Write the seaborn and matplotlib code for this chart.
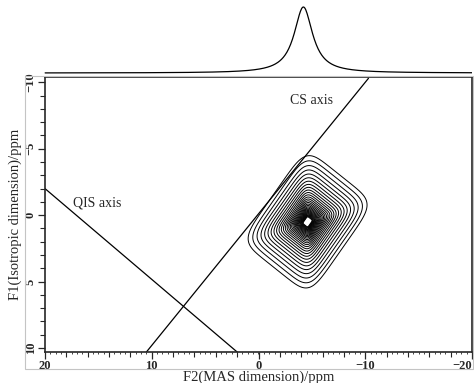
import numpy as np
import pandas as pd
import matplotlib
matplotlib.use("Agg")
import matplotlib.pyplot as plt
from matplotlib.ticker import MultipleLocator, FixedLocator, NullFormatter
from matplotlib.patches import Rectangle
import seaborn as sns

# ---------------- data ----------------
f2_ticks = [20, 10, 0, -10, -20]
f1_ticks = [-10, -5, 0, 5, 10]
f2_limits = [20.0, -20.0]
f1_limits = [10.3, -10.4]

# 2D peak
peak_f2 = -4.6
peak_f1 = 0.5
cs_half = [-3.05, -3.5]   # half-extent vector along CS direction (F2, F1)
qis_half = [-3.2, 2.05]   # half-extent vector along QIS direction (F2, F1)
shape_power = 6.0
peak_width = 0.06
outer_r, inner_r, n_levels = 1.0, 0.075, 30

# 1D MAS spectrum on top
mas_peak_f2 = -4.2
mas_fwhm = 2.1

# lines and labels
cs_axis_f2 = [10.5, -10.3]
cs_axis_f1 = [10.3, -10.3]
qis_axis_f2 = [20.0, 2.0]
qis_axis_f1 = [-2.0, 10.3]
cs_label_pos = [-5.0, -8.6]
qis_label_pos = [15.1, -0.9]


def profile(rr):
    return (1.0 + (rr / peak_width) ** 2) ** -0.65


# ---------------- 2D spectrum on a grid ----------------
f2 = np.linspace(20, -20, 700)
f1 = np.linspace(-10.5, 10.5, 500)
F2, F1 = np.meshgrid(f2, f1)
M = np.array([[cs_half[0], qis_half[0]], [cs_half[1], qis_half[1]]])
Minv = np.linalg.inv(M)
d2 = F2 - peak_f2
d1 = F1 - peak_f1
a = Minv[0, 0] * d2 + Minv[0, 1] * d1
b = Minv[1, 0] * d2 + Minv[1, 1] * d1
r = (np.abs(a) ** shape_power + np.abs(b) ** shape_power) ** (1 / shape_power)
Z = profile(r)
levels = np.geomspace(profile(outer_r), profile(inner_r), n_levels)

hw = mas_fwhm / 2
mas = 1.0 / (1.0 + ((f2 - mas_peak_f2) / hw) ** 2)
proj_df = pd.DataFrame({"f2": f2, "I": mas})

# ---------------- figure ----------------
sns.set_style("ticks")
plt.rcParams["font.family"] = ["Liberation Serif", "DejaVu Serif"]
plt.rcParams["axes.unicode_minus"] = True

W, H = 474, 383
fig = plt.figure(figsize=(W / 100, H / 100), dpi=100)

L, R, T, B = 45, 472, 77, 352
ax = fig.add_axes([L / W, 1 - B / H, (R - L) / W, (B - T) / H])
axt = fig.add_axes([43 / W, 1 - 76 / H, (R - 43) / W, 76 / H])

# outer light grey frame
fig.patches.append(Rectangle((25 / W, 1 - 369 / H), (473 - 25) / W, (369 - 76) / H,
                             transform=fig.transFigure, fill=False,
                             edgecolor="#c4c4c4", lw=0.8))

ax.contour(F2, F1, Z, levels=levels, colors="black", linewidths=0.7)

sns.lineplot(x=cs_axis_f2, y=cs_axis_f1, ax=ax, color="black", lw=0.9, sort=False)
sns.lineplot(x=qis_axis_f2, y=qis_axis_f1, ax=ax, color="black", lw=0.9, sort=False)
ax.text(cs_label_pos[0], cs_label_pos[1], "CS axis", fontsize=10, ha="center", va="center")
ax.text(qis_label_pos[0], qis_label_pos[1], "QIS axis", fontsize=10, ha="center", va="center")

ax.set_xlim(f2_limits)
ax.set_ylim(f1_limits)
ax.xaxis.set_major_locator(FixedLocator(f2_ticks))
ax.yaxis.set_major_locator(FixedLocator(f1_ticks))
ax.xaxis.set_minor_locator(MultipleLocator(2))
ax.yaxis.set_minor_locator(MultipleLocator(1))
ax.tick_params(axis="both", which="major", direction="out", length=5, width=0.9,
               labelsize=9, pad=1)
ax.tick_params(axis="both", which="minor", direction="out", length=3.5, width=0.8)
fig.canvas.draw()
for lab in ax.get_xticklabels() + ax.get_yticklabels():
    lab.set_fontweight("bold")
for lab in ax.get_yticklabels():
    lab.set_rotation(90)
    lab.set_va("center")
xlabs = ax.get_xticklabels()
xlabs[-1].set_ha("right")

# tiny ticks on the F2 axis
sec = ax.secondary_xaxis("bottom")
sec.spines["bottom"].set_visible(False)
sec.xaxis.set_major_locator(MultipleLocator(0.5))
sec.xaxis.set_major_formatter(NullFormatter())
sec.tick_params(axis="x", length=1.6, width=0.6, direction="out")

for s in ax.spines.values():
    s.set_linewidth(1.2)
    s.set_visible(True)

ax.set_xlabel("F2(MAS dimension)/ppm", fontsize=10.5, labelpad=-1)
ax.set_ylabel("F1(Isotropic dimension)/ppm", fontsize=10.5, labelpad=2)

# top 1D spectrum
sns.lineplot(data=proj_df, x="f2", y="I", ax=axt, color="black", lw=0.9, sort=False)
axt.set_xlim(20.2, -20.0)
axt.set_ylim(-0.045, 1.106)
axt.axis("off")

fig.savefig("out.png", dpi=100)
